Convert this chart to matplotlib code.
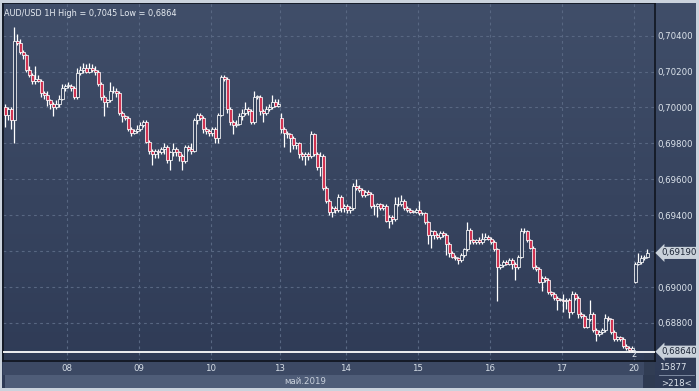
import numpy as np
import matplotlib
matplotlib.use("Agg")
import matplotlib.pyplot as plt
from matplotlib.colors import LinearSegmentedColormap
from matplotlib.patches import Rectangle

# hourly AUD/USD, per day: first value = open of first bar, then the closes
day_labels = ["08", "09", "10", "13", "14", "15", "16", "17", "20"]
path_07 = [0.7000, 0.6996, 0.6999, 0.6993, 0.7037, 0.7036, 0.7031, 0.7029, 0.7021, 0.7018, 0.7015,
           0.7016, 0.7015, 0.7008, 0.7007, 0.7004, 0.7002, 0.7000, 0.7002, 0.7005, 0.7011, 0.7012]
path_08 = [0.7012, 0.7012, 0.7011, 0.7006, 0.7019, 0.7021, 0.7022, 0.7020, 0.7022, 0.7021, 0.7020, 0.7013,
           0.7006, 0.7003, 0.7004, 0.7009, 0.7009, 0.7008, 0.6997, 0.6995, 0.6994, 0.6988, 0.6986, 0.6987, 0.6988]
path_09 = [0.6988, 0.6990, 0.6992, 0.6981, 0.6976, 0.6974, 0.6976, 0.6975, 0.6977, 0.6978, 0.6971, 0.6975,
           0.6977, 0.6975, 0.6973, 0.6970, 0.6978, 0.6977, 0.6976, 0.6993, 0.6996, 0.6994, 0.6988, 0.6987, 0.6986]
path_10 = [0.6986, 0.6988, 0.6983, 0.6996, 0.7017, 0.7016, 0.6999, 0.6992, 0.6990, 0.6991, 0.6995, 0.6997,
           0.6999, 0.6998, 0.6992, 0.7006, 0.7006, 0.6998, 0.6997, 0.6999, 0.7000, 0.7003, 0.7001, 0.7002]
path_13 = [0.6994, 0.6988, 0.6986, 0.6985, 0.6983, 0.6979, 0.6980, 0.6974, 0.6973, 0.6974, 0.6973, 0.6985,
           0.6974, 0.6967, 0.6973, 0.6955, 0.6948, 0.6942, 0.6944, 0.6943, 0.6950, 0.6944, 0.6945]
path_14 = [0.6945, 0.6943, 0.6944, 0.6956, 0.6955, 0.6954, 0.6951, 0.6953, 0.6952, 0.6945, 0.6945, 0.6946,
           0.6944, 0.6945, 0.6937, 0.6939, 0.6938, 0.6946, 0.6946, 0.6948, 0.6944, 0.6943, 0.6942, 0.6942, 0.6943]
path_15 = [0.6943, 0.6941, 0.6941, 0.6936, 0.6929, 0.6931, 0.6929, 0.6928, 0.6930, 0.6929, 0.6924, 0.6919,
           0.6917, 0.6916, 0.6915, 0.6918, 0.6921, 0.6932, 0.6926, 0.6925, 0.6926, 0.6925, 0.6927, 0.6928, 0.6927]
path_16 = [0.6927, 0.6925, 0.6921, 0.6911, 0.6912, 0.6914, 0.6913, 0.6915, 0.6913, 0.6911, 0.6917, 0.6931,
           0.6931, 0.6926, 0.6922, 0.6911, 0.6910, 0.6903, 0.6905, 0.6904, 0.6897, 0.6896, 0.6894, 0.6893, 0.6893]
path_17 = [0.6893, 0.6892, 0.6893, 0.6886, 0.6896, 0.6894, 0.6885, 0.6884, 0.6878, 0.6882, 0.6885, 0.6876,
           0.6874, 0.6875, 0.6876, 0.6883, 0.6882, 0.6875, 0.6871, 0.6872, 0.6871, 0.6867, 0.6866, 0.6865, 0.6866]
path_20 = [0.6903, 0.6913, 0.6914, 0.6916, 0.6917, 0.6919]

# wick lengths above / below the body, in pips
up_07 = [2, 1, 1, 8, 4, 2, 1, 1, 2, 1, 7, 2, 1, 1, 2, 1, 1, 2, 2, 2, 1]
dn_07 = [7, 3, 5, 13, 1, 1, 2, 1, 1, 2, 2, 1, 2, 2, 3, 3, 5, 1, 2, 1, 2]
up_08 = [2, 1, 1, 3, 2, 3, 2, 3, 2, 2, 1, 1, 1, 1, 5, 3, 2, 1, 1, 1, 1, 1, 1, 2]
dn_08 = [1, 2, 1, 1, 1, 2, 1, 1, 1, 2, 1, 2, 8, 3, 1, 1, 2, 1, 3, 1, 1, 2, 1, 1]
up_09 = [2, 1, 1, 1, 1, 1, 1, 1, 2, 1, 1, 3, 1, 1, 1, 1, 1, 3, 1, 1, 1, 1, 1, 1]
dn_09 = [1, 1, 1, 2, 6, 2, 3, 1, 3, 2, 6, 2, 2, 3, 5, 1, 1, 2, 1, 2, 1, 2, 2, 2]
up_10 = [1, 1, 1, 1, 1, 1, 1, 1, 2, 2, 2, 4, 1, 1, 3, 1, 1, 1, 2, 2, 4, 2, 3]
dn_10 = [2, 3, 3, 1, 1, 2, 2, 5, 1, 1, 2, 1, 2, 1, 1, 1, 2, 5, 1, 1, 1, 1, 1]
up_13 = [3, 1, 1, 1, 1, 1, 1, 1, 1, 1, 2, 1, 1, 2, 1, 1, 1, 1, 1, 2, 1, 1]
dn_13 = [2, 8, 2, 8, 2, 2, 2, 2, 5, 2, 1, 1, 2, 5, 1, 1, 2, 3, 2, 1, 2, 2]
up_14 = [1, 1, 2, 4, 2, 1, 1, 1, 1, 1, 1, 1, 1, 1, 1, 1, 4, 4, 3, 1, 1, 1, 1, 1]
dn_14 = [2, 2, 1, 1, 1, 1, 1, 1, 1, 5, 6, 1, 1, 1, 4, 3, 1, 1, 1, 1, 1, 1, 1, 1]
up_15 = [5, 1, 1, 1, 1, 1, 1, 1, 1, 1, 1, 1, 1, 1, 1, 1, 4, 1, 1, 1, 2, 3, 2, 1]
dn_15 = [1, 1, 1, 5, 7, 2, 1, 1, 1, 6, 2, 1, 1, 2, 1, 1, 1, 2, 1, 1, 1, 1, 1, 1]
up_16 = [1, 1, 1, 1, 1, 1, 1, 1, 1, 1, 2, 2, 1, 1, 1, 1, 1, 1, 1, 1, 1, 1, 1, 1]
dn_16 = [1, 1, 19, 1, 1, 1, 1, 3, 7, 1, 1, 1, 1, 1, 1, 1, 1, 5, 1, 1, 1, 1, 6, 1]
up_17 = [3, 1, 1, 2, 1, 1, 1, 1, 1, 8, 1, 1, 1, 1, 2, 1, 1, 1, 1, 1, 1, 1, 1, 1]
dn_17 = [6, 4, 3, 1, 1, 2, 1, 1, 1, 1, 1, 4, 1, 1, 1, 1, 1, 1, 1, 1, 1, 1, 1, 1]
up_20 = [1, 5, 2, 1, 2]
dn_20 = [1, 1, 1, 1, 1]

y_ticks = [0.688, 0.690, 0.692, 0.694, 0.696, 0.698, 0.700, 0.702, 0.704]
last_price = 0.6919
low_price = 0.6864

paths = [path_07, path_08, path_09, path_10, path_13, path_14, path_15, path_16, path_17, path_20]
ups = [up_07, up_08, up_09, up_10, up_13, up_14, up_15, up_16, up_17, up_20]
dns = [dn_07, dn_08, dn_09, dn_10, dn_13, dn_14, dn_15, dn_16, dn_17, dn_20]

opens, closes, highs, lows, day_start = [], [], [], [], []
for p, u, d in zip(paths, ups, dns):
    day_start.append(len(opens))
    for k in range(len(p) - 1):
        o, c = p[k], p[k + 1]
        opens.append(o)
        closes.append(c)
        highs.append(max(o, c) + u[k] * 0.0001)
        lows.append(min(o, c) - d[k] * 0.0001)
opens = np.array(opens)
closes = np.array(closes)
x = np.arange(len(opens))

W, H = 699, 391
fig = plt.figure(figsize=(W / 100, H / 100), dpi=100)
fig.patch.set_facecolor("#3a4762")
plt.rcParams["font.family"] = "DejaVu Sans"

bg_cmap = LinearSegmentedColormap.from_list("bg", ["#404e69", "#2e3a55"])

# figure background gradient (right price panel too)
bg = fig.add_axes([0, 0, 1, 1], zorder=-5)
bg.imshow(np.linspace(0, 1, 256).reshape(-1, 1), cmap=bg_cmap, aspect="auto", extent=[0, 1, 0, 1])
bg.set_axis_off()


def fx(px):
    return px / W


def fy(py):
    return 1 - py / H


ax = fig.add_axes([fx(3), fy(361), fx(652), 358 / H])
ax.set_facecolor("none")
x0, x1 = -0.83, 216.5
y0, y1 = 0.68588, 0.70582
ax.set_xlim(x0, x1)
ax.set_ylim(y0, y1)

# grid
grid_x = [s - 0.5 for s in day_start[1:]]
for gx in grid_x:
    ax.axvline(gx, color="#586782", lw=0.8, ls=(0, (2.5, 3)), zorder=1)
for gy in y_ticks:
    ax.axhline(gy, color="#586782", lw=0.8, ls=(0, (2.5, 3)), zorder=1)

# candles
ax.vlines(x, lows, highs, color="white", lw=0.9, zorder=3)
bear = closes < opens
body_lo = np.minimum(opens, closes)
body_h = np.maximum(np.abs(closes - opens), 0.00003)
ax.bar(x[~bear], body_h[~bear], bottom=body_lo[~bear], width=0.8,
       color="#34425d", edgecolor="white", linewidth=0.55, zorder=4)
ax.bar(x[bear], body_h[bear], bottom=body_lo[bear], width=0.8,
       color="#d03352", edgecolor="white", linewidth=0.55, zorder=4)

ax.axhline(low_price, color="white", lw=1.3, zorder=5)

# axes decoration
for side in ["left", "bottom", "right", "top"]:
    ax.spines[side].set_color("#10151f")
    ax.spines[side].set_linewidth(1.2)
ax.yaxis.tick_right()
ax.set_yticks(y_ticks)
ax.set_yticklabels(["" if abs(v - 0.692) < 1e-9 else f"{v:.5f}".replace(".", ",") for v in y_ticks])
ax.tick_params(axis="y", length=0, pad=2, labelsize=6.2, labelcolor="#dde4ec")
ax.set_xticks(grid_x)
ax.set_xticklabels(day_labels)
ax.tick_params(axis="x", length=0, pad=2.5, labelsize=6.2, labelcolor="#d5dde6")

ax.text(0.002, 0.982, "AUD/USD 1H High = 0,7045 Low = 0,6864", transform=ax.transAxes,
        ha="left", va="top", fontsize=5.9, color="#e8edf3")

# price flags on the right
for val in [last_price, low_price]:
    ax.text(1.0105, val, f"{val:.5f}".replace(".", ","), transform=ax.get_yaxis_transform(),
            ha="left", va="center", fontsize=6.2, color="#1c2536", clip_on=False, zorder=10,
            bbox=dict(boxstyle="larrow,pad=0.18", fc="#c9d1da", ec="none"))
ax.text(209.5, 0.68625, "2", ha="center", va="center", fontsize=6, color="#dfe6ee", zorder=6)

# bottom bands and frame
fig.patches.append(Rectangle((fx(3), fy(375)), fx(652), (375 - 362) / H, transform=fig.transFigure,
                             fc="#3c4964", ec="none", zorder=-1))
fig.patches.append(Rectangle((fx(5), fy(388)), fx(638), (388 - 375) / H, transform=fig.transFigure,
                             fc="#4f5d78", ec="none", zorder=-1))
fig.patches.append(Rectangle((fx(644), fy(388)), fx(11), (388 - 352) / H, transform=fig.transFigure,
                             fc="#2f3a51", ec="none", zorder=-1, alpha=0.8))
fig.text(fx(305), fy(381), "май.2019", ha="center", va="center", fontsize=6.2, color="#c8d0dc")
fig.text(fx(673), fy(368), "15877", ha="center", va="center", fontsize=6.2, color="#dde4ec")
fig.text(fx(676), fy(383), ">218<", ha="center", va="center", fontsize=6.2, color="#dde4ec")
fig.lines.append(plt.Line2D([fx(659), fx(694)], [fy(375), fy(375)], transform=fig.transFigure,
                            color="#8a97ad", lw=0.6))

frame = "#cbd3dd"
fig.patches.append(Rectangle((0, fy(2.5)), 1, 2.5 / H, transform=fig.transFigure, fc=frame, ec="none"))
fig.patches.append(Rectangle((0, 0), 1, 3 / H, transform=fig.transFigure, fc=frame, ec="none"))
fig.patches.append(Rectangle((0, 0), 2 / W, 1, transform=fig.transFigure, fc=frame, ec="none"))
fig.patches.append(Rectangle((fx(696), 0), 3 / W, 1, transform=fig.transFigure, fc=frame, ec="none"))

fig.savefig("out.png", dpi=100, facecolor=fig.get_facecolor())
